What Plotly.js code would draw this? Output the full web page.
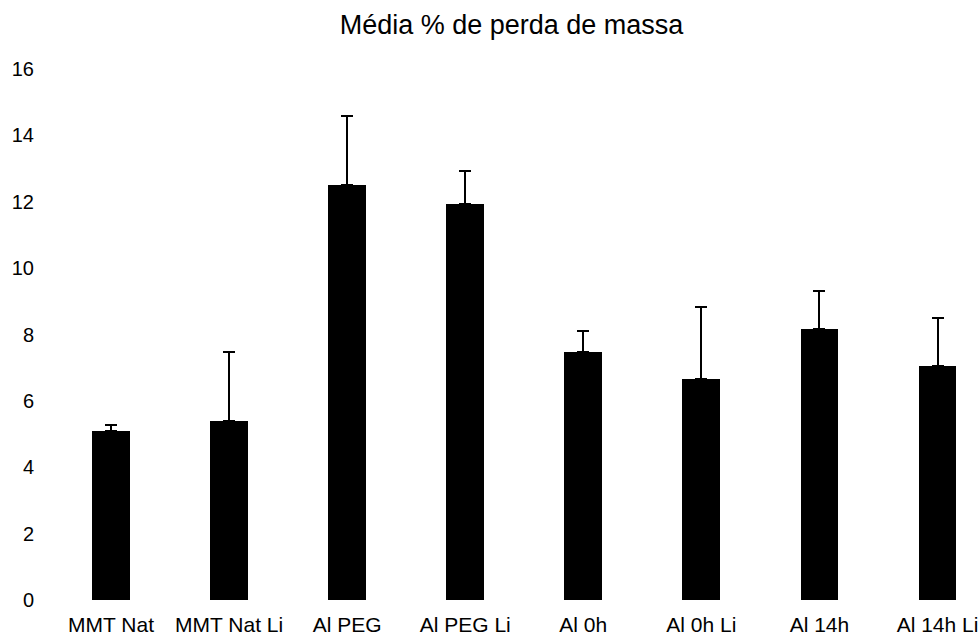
<!DOCTYPE html>
<html>
<head>
<meta charset="utf-8">
<script src="https://cdn.plot.ly/plotly-3.0.1.min.js"></script>
<style>
  html, body { margin: 0; padding: 0; background: #fff; }
  #chart { width: 978px; height: 639px; }
</style>
</head>
<body>
<div id="chart"></div>
<script>
// Mean mass-loss percentage per sample, with upper standard deviation
const categories = ['MMT Nat', 'MMT Nat Li', 'Al PEG', 'Al PEG Li',
                    'Al 0h', 'Al 0h Li', 'Al 14h', 'Al 14h Li'];
const meanLoss = [5.09, 5.38, 12.50, 11.92, 7.47, 6.65, 8.16, 7.04];
const stdDev   = [0.17, 2.09, 2.09, 1.01, 0.64, 2.17, 1.16, 1.47];
const yTicks   = [0, 2, 4, 6, 8, 10, 12, 14, 16];

const font = 'Liberation Sans, Arial, sans-serif';

const trace = {
  type: 'bar',
  x: categories.map((_, i) => i),
  y: meanLoss,
  width: 0.32,
  marker: { color: '#000000', line: { width: 0 } },
  error_y: {
    type: 'data',
    symmetric: false,
    array: stdDev,
    arrayminus: stdDev.map(() => 0),
    color: '#000000',
    thickness: 2,
    width: 6
  },
  hoverinfo: 'skip'
};

const layout = {
  width: 978,
  height: 639,
  paper_bgcolor: '#ffffff',
  plot_bgcolor: '#ffffff',
  margin: { l: 52, r: 0, t: 69, b: 39 },
  showlegend: false,
  bargap: 0,
  title: {
    text: 'Média % de perda de massa',
    font: { family: font, size: 27, color: '#000000' },
    x: 0.523,
    xanchor: 'center',
    xref: 'container',
    y: 0.962,
    yanchor: 'middle',
    yref: 'container'
  },
  xaxis: {
    range: [-0.5, 7.343],
    tickmode: 'array',
    tickvals: categories.map((_, i) => i),
    ticktext: categories,
    showline: false,
    showgrid: false,
    zeroline: false,
    ticks: '',
    ticklabelstandoff: 10,
    ticklabeloverflow: 'allow',
    tickfont: { family: font, size: 21, color: '#000000' },
    fixedrange: true
  },
  yaxis: {
    range: [0, 16],
    tickmode: 'array',
    tickvals: yTicks,
    ticktext: yTicks.map(String),
    showline: false,
    showgrid: false,
    zeroline: false,
    ticks: '',
    ticklabelstandoff: 17,
    tickfont: { family: font, size: 20, color: '#000000' },
    fixedrange: true
  }
};

Plotly.newPlot('chart', [trace], layout, { displayModeBar: false, staticPlot: true });
</script>
</body>
</html>
